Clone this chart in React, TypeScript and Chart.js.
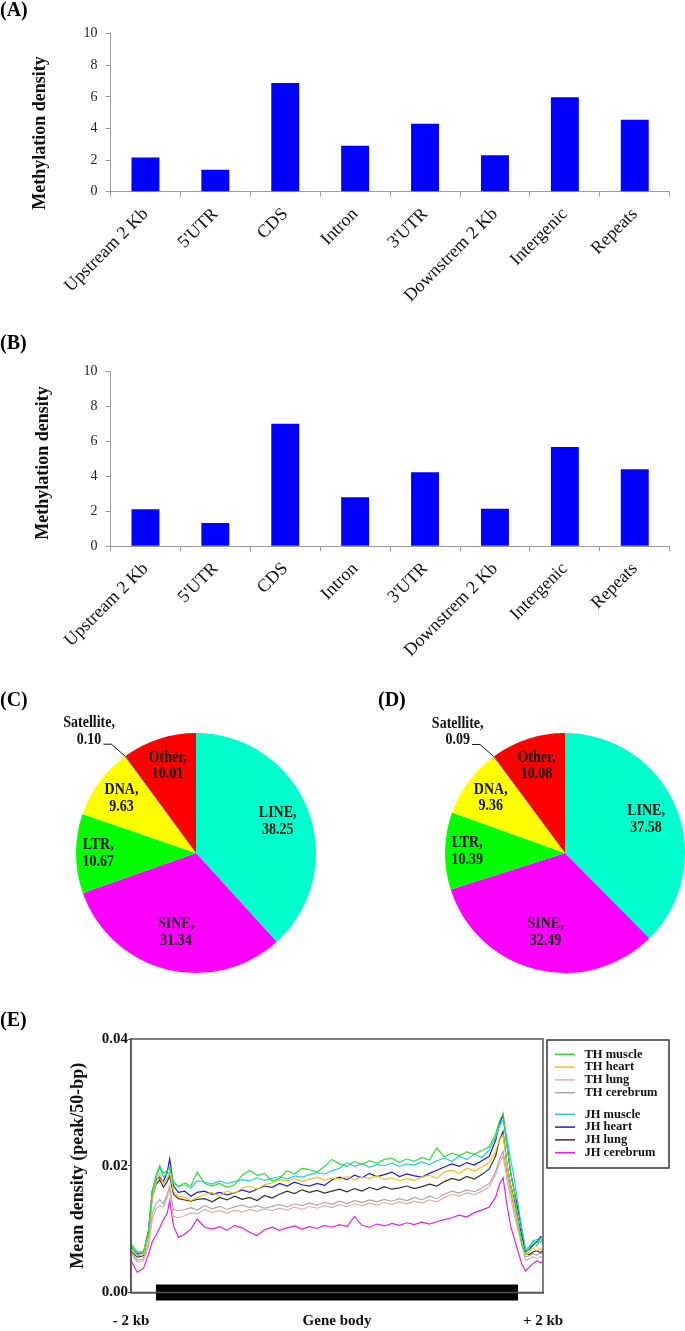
import React, { useEffect, useRef } from 'react';
import { Chart, registerables } from 'chart.js';

Chart.register(...registerables);

const SERIF = '"Liberation Serif", "Times New Roman", serif';

// ---------- Panels A & B : methylation density by genomic region ----------
const REGION_LABELS = ['Upstream 2 Kb', "5'UTR", 'CDS', 'Intron', "3'UTR", 'Downstrem 2 Kb', 'Intergenic', 'Repeats'];
const DENSITY_A = [2.17, 1.39, 6.88, 2.91, 4.3, 2.3, 5.97, 4.56];
const DENSITY_B = [2.12, 1.33, 7.02, 2.81, 4.24, 2.15, 5.69, 4.41];
const BAR_Y_MIN = 0;
const BAR_Y_MAX = 10;
const BAR_Y_STEP = 2;

// ---------- Panels C & D : repeat classes ----------
const REPEAT_CLASSES = ['LINE', 'SINE', 'LTR', 'DNA', 'Satellite', 'Other'];
const REPEAT_C = [38.25, 31.34, 10.67, 9.63, 0.1, 10.01];
const REPEAT_D = [37.58, 32.49, 10.39, 9.36, 0.09, 10.08];
const OUTSIDE_LABEL = 'Satellite';

// ---------- Panel E : peak density profile ----------
const PROFILE_BINS = [
  0, 10, 20, 28, 34, 40, 46, 52, 58, 62,
  68, 76, 86, 96, 106, 118, 130, 142, 154, 166,
  178, 190, 202, 214, 226, 238, 250, 262, 274, 286,
  298, 310, 322, 334, 346, 358, 370, 382, 394, 406,
  418, 430, 442, 454, 466, 478, 490, 502, 514, 526,
  538, 550, 562, 574, 584, 590, 596, 602, 608, 614,
  620, 626, 632, 638, 644, 650, 656, 660,
];
const PROFILE_X_MIN = 0;
const PROFILE_X_MAX = 660;
const GENE_BODY = [40, 620];
const GENE_BODY_LABEL = 'Gene body';
const PROFILE_TICKS = [0, 330, 660];
const PROFILE_TICK_LABELS = ['- 2 kb', 'Gene body', '+ 2 kb'];
const PROFILE_Y_MAX = 0.04;
const PROFILE_Y_STEP = 0.02;

const TH_MUSCLE = [
  0.0077, 0.0064, 0.0064, 0.0095, 0.016, 0.0185, 0.02, 0.0188, 0.0192, 0.0197,
  0.0175, 0.0167, 0.0173, 0.0168, 0.019, 0.0172, 0.0168, 0.0172, 0.0166, 0.017,
  0.0185, 0.0193, 0.0185, 0.0188, 0.0176, 0.018, 0.0192, 0.0187, 0.0196, 0.0194,
  0.019, 0.0199, 0.021, 0.0203, 0.0199, 0.0207, 0.0202, 0.0208, 0.0204, 0.021,
  0.0212, 0.0205, 0.0211, 0.0207, 0.0213, 0.0209, 0.0228, 0.0214, 0.022, 0.0216,
  0.0222, 0.0218, 0.0224, 0.023, 0.025, 0.027, 0.0283, 0.0235, 0.019, 0.016,
  0.0115, 0.0075, 0.0062, 0.007, 0.0082, 0.0074, 0.0086, 0.0078,
];
const TH_HEART = [
  0.0068, 0.0058, 0.006, 0.009, 0.015, 0.0172, 0.0188, 0.0172, 0.018, 0.019,
  0.016, 0.0152, 0.015, 0.0145, 0.015, 0.0155, 0.0158, 0.0152, 0.016, 0.0156,
  0.0165, 0.0168, 0.0163, 0.017, 0.0173, 0.0178, 0.0176, 0.018, 0.0175, 0.0179,
  0.0182, 0.0177, 0.0181, 0.0179, 0.0183, 0.0178, 0.0182, 0.018, 0.0184, 0.0178,
  0.0181, 0.0176, 0.018, 0.0177, 0.0182, 0.0185, 0.018, 0.019, 0.0193, 0.0188,
  0.0196, 0.0192, 0.0198, 0.0205, 0.0222, 0.024, 0.0249, 0.0205, 0.017, 0.014,
  0.011, 0.008, 0.006, 0.0064, 0.007, 0.0066, 0.0069, 0.0067,
];
const TH_LUNG = [
  0.0061, 0.0048, 0.005, 0.0072, 0.0115, 0.0132, 0.0137, 0.0135, 0.015, 0.0163,
  0.012, 0.0118, 0.0121, 0.0126, 0.0124, 0.0131, 0.0126, 0.0129, 0.0125, 0.013,
  0.0127, 0.0131, 0.0128, 0.0132, 0.0129, 0.0133, 0.013, 0.0135, 0.0131, 0.0136,
  0.0133, 0.0137, 0.0134, 0.0139, 0.0135, 0.014, 0.0137, 0.0141, 0.0138, 0.0142,
  0.0139, 0.0143, 0.014, 0.0144, 0.0141, 0.0146, 0.0143, 0.015, 0.0155, 0.0152,
  0.0157, 0.0154, 0.016, 0.0167, 0.0185, 0.0203, 0.0215, 0.018, 0.015, 0.0122,
  0.0098, 0.0075, 0.0051, 0.0053, 0.0056, 0.0054, 0.0057, 0.0055,
];
const TH_CEREBRUM = [
  0.0064, 0.0051, 0.0053, 0.0078, 0.0125, 0.014, 0.0147, 0.014, 0.0155, 0.0168,
  0.0131, 0.0129, 0.0131, 0.0134, 0.013, 0.0137, 0.0132, 0.0136, 0.0131, 0.0135,
  0.0138, 0.0134, 0.0137, 0.0133, 0.0136, 0.0139, 0.0135, 0.014, 0.0137, 0.0141,
  0.0138, 0.0142, 0.0139, 0.0144, 0.014, 0.0145, 0.0142, 0.0146, 0.0143, 0.0147,
  0.0144, 0.0148, 0.0145, 0.015, 0.0146, 0.0152, 0.0148, 0.0155, 0.016, 0.0157,
  0.0162, 0.0159, 0.0165, 0.0172, 0.019, 0.021, 0.0223, 0.019, 0.016, 0.013,
  0.0105, 0.008, 0.0056, 0.0058, 0.0061, 0.0059, 0.0062, 0.006,
];
const JH_MUSCLE = [
  0.0074, 0.006, 0.0062, 0.009, 0.015, 0.018, 0.0198, 0.0182, 0.0188, 0.019,
  0.0172, 0.0168, 0.017, 0.0165, 0.0176, 0.0174, 0.0171, 0.0176, 0.0172, 0.0175,
  0.0178, 0.0176, 0.0181, 0.0177, 0.018, 0.0183, 0.0179, 0.0184, 0.0182, 0.0186,
  0.0189, 0.0187, 0.0192, 0.0196, 0.0205, 0.0199, 0.0203, 0.0198, 0.0202, 0.02,
  0.0204, 0.0199, 0.0203, 0.0201, 0.0206, 0.0202, 0.0208, 0.0212, 0.0207, 0.0215,
  0.021, 0.0218, 0.0213, 0.0225, 0.0245, 0.0262, 0.0272, 0.0245, 0.021, 0.018,
  0.014, 0.01, 0.0068, 0.0072, 0.008, 0.0084, 0.0079, 0.0085,
];
const JH_HEART = [
  0.0072, 0.0061, 0.0063, 0.0098, 0.016, 0.0178, 0.0182, 0.0175, 0.019, 0.0211,
  0.0168, 0.0158, 0.016, 0.0152, 0.0158, 0.016, 0.0155, 0.0158, 0.0154, 0.0157,
  0.0162, 0.0158, 0.0163, 0.0168, 0.0166, 0.0172, 0.0168, 0.0174, 0.017, 0.0168,
  0.0172, 0.0169, 0.0178, 0.0182, 0.0178, 0.0185, 0.0181, 0.0188, 0.0183, 0.0186,
  0.019, 0.0183, 0.0187, 0.0184, 0.0182, 0.0188, 0.0193, 0.0198, 0.0203, 0.0199,
  0.0205, 0.0201, 0.0208, 0.0215, 0.024, 0.0265, 0.028, 0.0235, 0.019, 0.016,
  0.013, 0.01, 0.0065, 0.0068, 0.0075, 0.008, 0.0088, 0.0087,
];
const JH_LUNG = [
  0.0066, 0.0056, 0.0058, 0.0092, 0.015, 0.017, 0.0178, 0.0166, 0.0175, 0.0184,
  0.0155, 0.0148, 0.0146, 0.0144, 0.0147, 0.0148, 0.0143, 0.015, 0.0146, 0.0152,
  0.0147, 0.015, 0.0145, 0.0153, 0.0149, 0.0155, 0.016, 0.0156, 0.0162, 0.0158,
  0.0161, 0.0157, 0.016, 0.0163, 0.0159, 0.0164, 0.016, 0.0166, 0.0162, 0.0167,
  0.0163, 0.0165, 0.0168, 0.0164, 0.0167, 0.0171, 0.0168, 0.0175, 0.018, 0.0177,
  0.0183, 0.0179, 0.0186, 0.0195, 0.0215, 0.024, 0.0254, 0.0205, 0.017, 0.0145,
  0.0115, 0.009, 0.0062, 0.006, 0.0064, 0.0066, 0.0063, 0.0066,
];
const JH_CEREBRUM = [
  0.0051, 0.0032, 0.0038, 0.006, 0.008, 0.009, 0.0102, 0.0115, 0.0125, 0.0145,
  0.0105, 0.0087, 0.0092, 0.01, 0.0116, 0.0103, 0.01, 0.0104, 0.0098, 0.0106,
  0.0102, 0.0095, 0.009, 0.0099, 0.0103, 0.0098, 0.0102, 0.0105, 0.01, 0.0104,
  0.0101, 0.0106, 0.0103, 0.0107, 0.0104, 0.012, 0.0106, 0.0103, 0.0108, 0.0105,
  0.0109, 0.0106, 0.011, 0.0107, 0.0111, 0.0108, 0.0112, 0.0115, 0.0118, 0.0122,
  0.0119, 0.0126, 0.013, 0.0135, 0.015, 0.017, 0.0181, 0.014, 0.0105, 0.0085,
  0.0065, 0.0045, 0.0034, 0.004, 0.0046, 0.005, 0.0047, 0.0049,
];
const PROFILE_NAMES = ['TH muscle', 'TH heart', 'TH lung', 'TH cerebrum', 'JH muscle', 'JH heart', 'JH lung', 'JH cerebrum'];
const PROFILE_VALUES = [TH_MUSCLE, TH_HEART, TH_LUNG, TH_CEREBRUM, JH_MUSCLE, JH_HEART, JH_LUNG, JH_CEREBRUM];

// ---------- styles ----------
const BAR_COLOR = '#0000ff';
const AXIS_GRAY = '#9c9c9c';
const REPEAT_COLORS = ['#00ffcc', '#ff00ff', '#00ff00', '#ffff00', '#2f5fff', '#ff0000'];
const PIE_LABEL_RADIUS = [0.73, 0.68, 0.815, 0.77, 0, 0.765];
const PIE_TEXT_STRETCH = 1.15;
const PROFILE_COLORS = ['#2ee02e', '#f2bf1a', '#dcaeae', '#a8a8a8', '#22cce8', '#1c1cdc', '#333333', '#e61ee6'];

const BAR_AREA_LEFT = 110.5;
const BAR_AREA_RIGHT = 669.7;

function makeBarChart(canvas: HTMLCanvasElement, values: number[], areaTop: number, areaBottom: number) {
  return new Chart(canvas, {
    type: 'bar',
    data: {
      labels: REGION_LABELS,
      datasets: [
        {
          data: values,
          backgroundColor: BAR_COLOR,
          borderWidth: 0,
          barPercentage: 0.4,
          categoryPercentage: 1,
        },
      ],
    },
    options: {
      responsive: false,
      animation: false,
      devicePixelRatio: 1,
      events: [],
      layout: {
        autoPadding: false,
        padding: { left: 0, top: areaTop, right: canvas.width - BAR_AREA_RIGHT, bottom: 0 },
      },
      plugins: { legend: { display: false }, tooltip: { enabled: false } },
      scales: {
        x: {
          afterFit: (s: any) => {
            s.height = canvas.height - areaBottom;
          },
          grid: { offset: true, drawOnChartArea: false, drawTicks: true, tickLength: 5, color: AXIS_GRAY },
          border: { display: true, color: AXIS_GRAY, width: 1 },
          ticks: {
            autoSkip: false,
            minRotation: 45,
            maxRotation: 45,
            padding: 7,
            color: '#111',
            font: { family: SERIF, size: 18 },
          },
        },
        y: {
          min: BAR_Y_MIN,
          max: BAR_Y_MAX,
          afterFit: (s: any) => {
            s.width = BAR_AREA_LEFT;
          },
          grid: { drawOnChartArea: false, drawTicks: true, tickLength: 5, color: AXIS_GRAY },
          border: { display: true, color: AXIS_GRAY, width: 1 },
          ticks: { stepSize: BAR_Y_STEP, padding: 8, color: '#222', font: { family: SERIF, size: 14 } },
        },
      },
    },
  } as any);
}

function stretchedText(ctx: CanvasRenderingContext2D, text: string, x: number, y: number) {
  ctx.save();
  ctx.translate(x, y);
  ctx.scale(1, PIE_TEXT_STRETCH);
  ctx.fillText(text, 0, 0);
  ctx.restore();
}

const pieLabelPlugin = {
  id: 'pieLabels',
  afterDatasetsDraw(chart: any) {
    const ctx = chart.ctx as CanvasRenderingContext2D;
    const meta = chart.getDatasetMeta(0);
    const labels = chart.data.labels as string[];
    const values = chart.data.datasets[0].data as number[];
    const lh = 16.7;
    ctx.save();
    ctx.font = `bold 14px ${SERIF}`;
    ctx.fillStyle = '#111';
    ctx.textAlign = 'center';
    ctx.textBaseline = 'middle';
    meta.data.forEach((arc: any, i: number) => {
      const p = arc.getProps(['x', 'y', 'startAngle', 'endAngle', 'outerRadius'], true);
      const mid = (p.startAngle + p.endAngle) / 2;
      const line1 = `${labels[i]},`;
      const line2 = Number(values[i]).toFixed(2);
      if (labels[i] === OUTSIDE_LABEL) {
        const ex = p.x + Math.cos(mid) * p.outerRadius;
        const ey = p.y + Math.sin(mid) * p.outerRadius;
        const tx = ex - 36;
        const ty = ey - 33;
        stretchedText(ctx, line1, tx, ty);
        stretchedText(ctx, line2, tx, ty + lh);
        ctx.strokeStyle = '#111';
        ctx.lineWidth = 1;
        ctx.beginPath();
        ctx.moveTo(ex - 21.6, ey - 12);
        ctx.lineTo(ex - 13.7, ey - 12);
        ctx.lineTo(ex, ey);
        ctx.stroke();
      } else {
        const f = PIE_LABEL_RADIUS[i];
        const cx = p.x + Math.cos(mid) * p.outerRadius * f;
        const cy = p.y + Math.sin(mid) * p.outerRadius * f;
        stretchedText(ctx, line1, cx, cy - lh / 2);
        stretchedText(ctx, line2, cx, cy + lh / 2);
      }
    });
    ctx.restore();
  },
};

function makePieChart(canvas: HTMLCanvasElement, values: number[], padding: any) {
  return new Chart(canvas, {
    type: 'pie',
    data: {
      labels: REPEAT_CLASSES,
      datasets: [{ data: values, backgroundColor: REPEAT_COLORS, borderWidth: 0 }],
    },
    options: {
      responsive: false,
      animation: false,
      devicePixelRatio: 1,
      events: [],
      layout: { autoPadding: false, padding },
      plugins: { legend: { display: false }, tooltip: { enabled: false } },
    },
    plugins: [pieLabelPlugin],
  } as any);
}

const profileFramePlugin = {
  id: 'profileFrame',
  afterDraw(chart: any) {
    const ctx = chart.ctx as CanvasRenderingContext2D;
    const a = chart.chartArea;
    ctx.save();
    ctx.strokeStyle = '#555';
    ctx.lineWidth = 1.5;
    ctx.strokeRect(a.left, a.top, a.right - a.left, a.bottom - a.top);

    const bx = a.right + 4;
    const by = a.top + 1;
    const bw = 122;
    const bh = 128;
    ctx.strokeStyle = '#333';
    ctx.lineWidth = 1.5;
    ctx.strokeRect(bx, by, bw, bh);
    ctx.font = `bold 12.5px ${SERIF}`;
    ctx.textBaseline = 'middle';
    ctx.textAlign = 'left';
    ctx.fillStyle = '#111';
    const items = chart.data.datasets.filter((d: any) => d.label !== GENE_BODY_LABEL);
    items.forEach((d: any, i: number) => {
      const y = by + 14.3 + i * 12.8 + (i >= 4 ? 8.8 : 0);
      ctx.strokeStyle = d.borderColor;
      ctx.lineWidth = 1.5;
      ctx.beginPath();
      ctx.moveTo(bx + 8, y);
      ctx.lineTo(bx + 28, y);
      ctx.stroke();
      ctx.fillText(d.label, bx + 37.5, y);
    });
    ctx.restore();
  },
};

function makeProfileChart(canvas: HTMLCanvasElement) {
  const areaTop = 39;
  const areaBottom = 292.5;
  const datasets: any[] = PROFILE_NAMES.map((name, k) => ({
    label: name,
    data: PROFILE_VALUES[k].map((v, i) => ({ x: PROFILE_BINS[i], y: v })),
    borderColor: PROFILE_COLORS[k],
    backgroundColor: PROFILE_COLORS[k],
    borderWidth: 1.2,
    pointRadius: 0,
    tension: 0,
    fill: false,
  }));
  datasets.push({
    label: GENE_BODY_LABEL,
    data: GENE_BODY.map((x) => ({ x, y: 0 })),
    borderColor: '#000',
    backgroundColor: '#000',
    borderWidth: 16,
    borderCapStyle: 'butt',
    pointRadius: 0,
    clip: false,
    fill: false,
  });
  return new Chart(canvas, {
    type: 'line',
    data: { datasets },
    options: {
      responsive: false,
      animation: false,
      devicePixelRatio: 1,
      events: [],
      layout: { autoPadding: false, padding: { left: 0, top: areaTop, right: 142, bottom: 0 } },
      plugins: { legend: { display: false }, tooltip: { enabled: false } },
      scales: {
        x: {
          type: 'linear',
          min: PROFILE_X_MIN,
          max: PROFILE_X_MAX,
          afterFit: (s: any) => {
            s.height = canvas.height - areaBottom;
          },
          afterBuildTicks: (s: any) => {
            s.ticks = PROFILE_TICKS.map((v) => ({ value: v }));
          },
          grid: { display: false, drawTicks: false },
          border: { display: true, color: '#222', width: 1.5 },
          ticks: {
            autoSkip: false,
            maxRotation: 0,
            minRotation: 0,
            padding: 20,
            color: '#111',
            font: { family: SERIF, size: 15, weight: 'bold' },
            callback: (_v: any, i: number) => PROFILE_TICK_LABELS[i],
          },
        },
        y: {
          min: 0,
          max: PROFILE_Y_MAX,
          afterFit: (s: any) => {
            s.width = 131;
          },
          grid: { drawOnChartArea: false, drawTicks: true, tickLength: 3, color: '#555' },
          border: { display: true, color: '#555', width: 1.5 },
          ticks: {
            stepSize: PROFILE_Y_STEP,
            padding: 0,
            color: '#111',
            font: { family: SERIF, size: 15, weight: 'bold' },
            callback: (v: any) => Number(v).toFixed(2),
          },
          title: {
            display: true,
            text: 'Mean density (peak/50-bp)',
            color: '#111',
            font: { family: SERIF, size: 18, weight: 'bold' },
            padding: { top: 67.8, bottom: 0 },
          },
        },
      },
    },
    plugins: [profileFramePlugin],
  } as any);
}

export default function App() {
  const aRef = useRef<HTMLCanvasElement | null>(null);
  const bRef = useRef<HTMLCanvasElement | null>(null);
  const cRef = useRef<HTMLCanvasElement | null>(null);
  const dRef = useRef<HTMLCanvasElement | null>(null);
  const eRef = useRef<HTMLCanvasElement | null>(null);

  useEffect(() => {
    const charts: Chart[] = [];
    if (aRef.current) charts.push(makeBarChart(aRef.current, DENSITY_A, 33.7, 191.7));
    if (bRef.current) charts.push(makeBarChart(bRef.current, DENSITY_B, 41.7, 216.3));
    if (cRef.current) charts.push(makePieChart(cRef.current, REPEAT_C, { left: 76, top: 53, right: 24, bottom: 27 }));
    if (dRef.current) charts.push(makePieChart(dRef.current, REPEAT_D, { left: 103, top: 53, right: 0, bottom: 27 }));
    if (eRef.current) charts.push(makeProfileChart(eRef.current));
    return () => charts.forEach((c) => c.destroy());
  }, []);

  const abs = (left: number, top: number): React.CSSProperties => ({ position: 'absolute', left, top });
  const panelLabel: React.CSSProperties = { font: `bold 20px/20px ${SERIF}`, color: '#000', whiteSpace: 'nowrap' };
  const yTitle = (cx: number, cy: number): React.CSSProperties => ({
    position: 'absolute',
    left: cx,
    top: cy,
    transform: 'translate(-50%, -50%) rotate(-90deg)',
    font: `bold 18px/20px ${SERIF}`,
    color: '#111',
    whiteSpace: 'nowrap',
  });

  return (
    <div style={{ position: 'absolute', left: 0, top: 0, width: 685, height: 1331, background: '#fff', overflow: 'hidden' }}>
      <canvas ref={aRef} width={685} height={320} style={abs(0, 0)} />
      <canvas ref={bRef} width={685} height={330} style={abs(0, 330)} />
      <canvas ref={cRef} width={340} height={320} style={abs(0, 680)} />
      <canvas ref={dRef} width={343} height={320} style={abs(342, 680)} />
      <canvas ref={eRef} width={685} height={331} style={abs(0, 1000)} />

      <div style={{ ...abs(0, -1), ...panelLabel }}>(A)</div>
      <div style={{ ...abs(0, 332), ...panelLabel }}>(B)</div>
      <div style={{ ...abs(0, 689), ...panelLabel }}>(C)</div>
      <div style={{ ...abs(378, 689), ...panelLabel }}>(D)</div>
      <div style={{ ...abs(0, 1009), ...panelLabel }}>(E)</div>

      <div style={yTitle(39.3, 133)}>Methylation density</div>
      <div style={yTitle(41.5, 463)}>Methylation density</div>
    </div>
  );
}
